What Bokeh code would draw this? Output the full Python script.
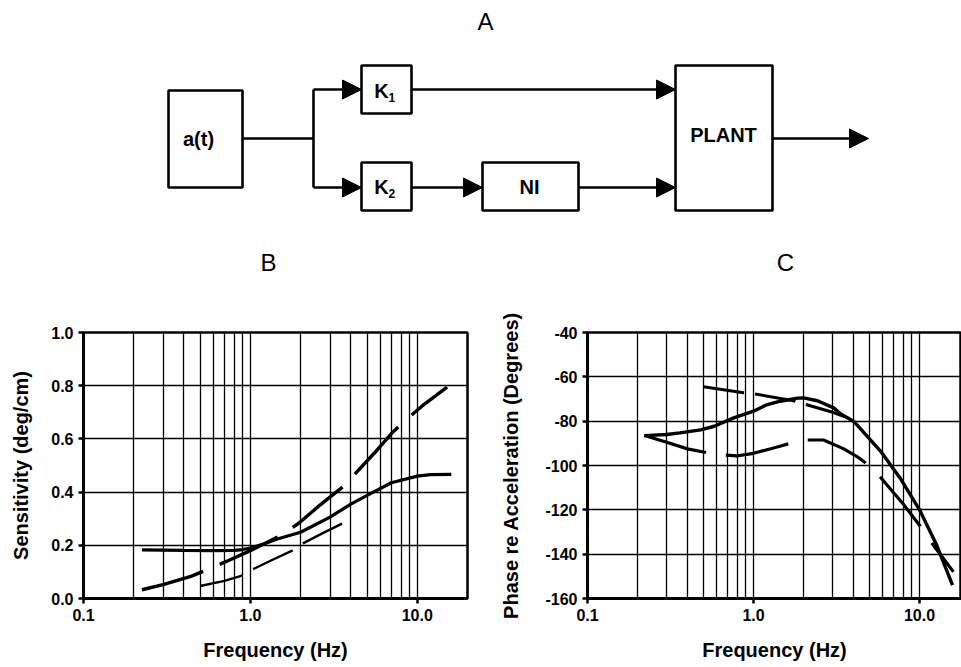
from bokeh.plotting import figure
from bokeh.models import (Range1d, FixedTicker, CustomJSTickFormatter, Arrow,
                          NormalHead)
from bokeh.layouts import column, row
from bokeh.embed import file_html
from bokeh.resources import INLINE
from bokeh.core.properties import value

FONT = "Liberation Sans"

# ---------------- data ----------------
# Panel B: sensitivity (deg/cm) vs frequency (Hz)
b_solid_f = [0.224, 0.4, 0.6, 0.8, 0.9, 1.0, 1.2, 1.45, 2.0, 3.0, 4.0, 5.24, 7.0, 10.0, 12.0, 16.0]
b_solid_v = [0.183, 0.181, 0.18, 0.181, 0.184, 0.19, 0.205, 0.224, 0.249, 0.306, 0.355, 0.394, 0.435, 0.46, 0.466, 0.467]

b_long_f = [0.224, 0.3, 0.44, 0.575, 0.74, 1.0, 1.3, 1.58, 1.94, 2.6, 3.6, 4.2, 5.5, 7.0, 8.4, 11.0, 15.1]
b_long_v = [0.033, 0.052, 0.083, 0.113, 0.143, 0.18, 0.215, 0.244, 0.282, 0.35, 0.421, 0.466, 0.545, 0.62, 0.667, 0.73, 0.795]

b_short_f = [0.5, 0.7, 0.89, 1.02, 1.3, 1.78, 2.08, 2.7, 3.59]
b_short_v = [0.047, 0.066, 0.086, 0.108, 0.14, 0.18, 0.208, 0.245, 0.283]

# Panel C: phase re acceleration (degrees) vs frequency (Hz)
c_solid_f = [0.22, 0.3, 0.36, 0.48, 0.58, 0.76, 1.0, 1.21, 1.45, 1.84, 2.0, 2.43, 3.04, 3.34, 4.0, 4.24, 5.82, 7.65, 10.0, 12.7, 15.8]
c_solid_v = [-86.5, -86.0, -85.3, -83.9, -82.3, -78.5, -75.5, -72.5, -71.0, -69.6, -69.5, -70.8, -74.0, -76.7, -80.0, -82.0, -93.5, -105.7, -120.0, -136.0, -154.0]

c_upper_f = [0.5, 0.87, 1.0, 1.74, 2.0, 3.0, 3.68, 4.0]
c_upper_v = [-64.5, -67.2, -67.6, -70.8, -72.2, -76.0, -78.5, -80.0]

c_lower_f = [0.22, 0.3, 0.4, 0.574, 0.79, 1.0, 1.46, 1.97, 2.64, 3.5, 4.3, 5.28, 6.24, 8.0, 10.1, 11.6, 16.0]
c_lower_v = [-86.5, -89.5, -92.5, -94.8, -95.7, -94.5, -91.2, -88.5, -88.5, -92.5, -96.5, -101.6, -108.0, -117.5, -127.4, -134.0, -148.0]

x_major = [0.1, 1.0, 10.0]
x_minor = [0.2, 0.3, 0.4, 0.5, 0.6, 0.7, 0.8, 0.9, 2, 3, 4, 5, 6, 7, 8, 9]
b_yticks = [0.0, 0.2, 0.4, 0.6, 0.8, 1.0]
c_yticks = [-160, -140, -120, -100, -80, -60, -40]

# ---------------- block diagram (panel A) ----------------
block_names = ["a(t)", "K1", "K2", "NI", "PLANT"]
block_left = [168, 361, 361, 482, 675]
block_right = [242, 411, 411, 578, 772]
block_top = [90, 65, 162, 162, 65]
block_bottom = [187, 113, 210, 210, 210]

d = figure(width=961, height=280, x_range=Range1d(0, 961), y_range=Range1d(280, 0),
           output_backend="svg", toolbar_location=None, min_border=0)
d.axis.visible = False
d.grid.visible = False
d.outline_line_color = None

d.quad(left=block_left, right=block_right, top=block_top, bottom=block_bottom,
       fill_color="white", line_color="black", line_width=2.6)

# plain connecting lines
d.segment(x0=[242, 313], y0=[138, 89], x1=[313, 313], y1=[138, 187],
          line_color="black", line_width=2.6)

arrows = [(313, 89, 361, 89), (313, 187, 361, 187), (411, 89, 675, 89),
          (411, 187, 482, 187), (578, 187, 675, 187), (772, 138, 868, 138)]
for xs, ys, xe, ye in arrows:
    d.add_layout(Arrow(end=NormalHead(size=19, fill_color="black", line_color="black", line_width=1),
                       x_start=xs, y_start=ys, x_end=xe, y_end=ye,
                       line_color="black", line_width=2.6))

d.text(x=[198, 529, 723], y=[138, 186, 134], text=["a(t)", "NI", "PLANT"],
       text_font=value(FONT), text_font_style="bold", text_font_size="20px",
       text_align="center", text_baseline="middle")
d.text(x=[381, 381], y=[90, 186], text=["K", "K"],
       text_font=value(FONT), text_font_style="bold", text_font_size="20px",
       text_align="center", text_baseline="middle")
d.text(x=[388, 388], y=[97, 193], text=["1", "2"],
       text_font=value(FONT), text_font_style="bold", text_font_size="12px",
       text_align="left", text_baseline="middle")
d.text(x=[485, 268, 785], y=[21, 262, 262], text=["A", "B", "C"],
       text_font=value(FONT), text_font_size="24px",
       text_align="center", text_baseline="middle")


def style_plot(p, yticks, yfmt, ylabel, label_standoff):
    tk = FixedTicker(ticks=x_major, minor_ticks=x_minor)
    p.xaxis.ticker = tk
    p.xgrid.ticker = tk
    yt = FixedTicker(ticks=yticks)
    p.yaxis.ticker = yt
    p.ygrid.ticker = yt
    p.xaxis.formatter = CustomJSTickFormatter(code="return tick.toFixed(1);")
    p.yaxis.formatter = CustomJSTickFormatter(code="return tick.toFixed(%d);" % yfmt)
    for g in (p.xgrid, p.ygrid):
        g.grid_line_color = "black"
        g.grid_line_width = 1.3
        g.grid_line_alpha = 1.0
    p.xgrid.minor_grid_line_color = "black"
    p.xgrid.minor_grid_line_width = 1.3
    for ax in (p.xaxis, p.yaxis):
        ax.axis_line_width = 3
        ax.axis_line_color = "black"
        ax.major_tick_in = 0
        ax.major_tick_out = 5
        ax.major_tick_line_width = 2.5
        ax.minor_tick_line_color = None
        ax.major_label_text_font = FONT
        ax.major_label_text_font_style = "bold"
        ax.major_label_text_font_size = "16px"
        ax.major_label_text_color = "black"
        ax.axis_label_text_font = FONT
        ax.axis_label_text_font_style = "bold"
        ax.axis_label_text_font_size = "20px"
        ax.axis_label_text_color = "black"
    p.xaxis.axis_label = "Frequency (Hz)"
    p.xaxis.axis_label_standoff = 15
    p.yaxis.axis_label = ylabel
    p.yaxis.axis_label_standoff = label_standoff
    p.outline_line_color = "black"
    p.outline_line_width = 2.5
    p.outline_line_alpha = 1.0


# ---------------- panel B ----------------
pB = figure(width=480, height=387, x_axis_type="log", x_range=Range1d(0.1, 20),
            y_range=Range1d(0, 1), output_backend="svg", toolbar_location=None,
            min_border_left=83, min_border_right=13, min_border_top=52, min_border_bottom=69)
style_plot(pB, b_yticks, 1, "Sensitivity (deg/cm)", 16)
pB.line(b_solid_f, b_solid_v, line_color="black", line_width=3.2)
pB.line(b_long_f, b_long_v, line_color="black", line_width=3.4, line_dash="64 18")
pB.line(b_short_f, b_short_v, line_color="black", line_width=2.4, line_dash="44 12")

# ---------------- panel C ----------------
pC = figure(width=481, height=387, x_axis_type="log", x_range=Range1d(0.1, 17.9),
            y_range=Range1d(-160, -40), output_backend="svg", toolbar_location=None,
            min_border_left=107, min_border_right=0, min_border_top=52, min_border_bottom=69)
style_plot(pC, c_yticks, 0, "Phase re Acceleration (Degrees)", 20)
pC.line(c_solid_f, c_solid_v, line_color="black", line_width=3.4)
pC.line(c_upper_f, c_upper_v, line_color="black", line_width=3.0, line_dash="41 11")
pC.line(c_lower_f, c_lower_v, line_color="black", line_width=3.2, line_dash="64 20")

layout = column(d, row(pB, pC, spacing=0), spacing=0)
open("out.html", "w").write(file_html(layout, INLINE))
